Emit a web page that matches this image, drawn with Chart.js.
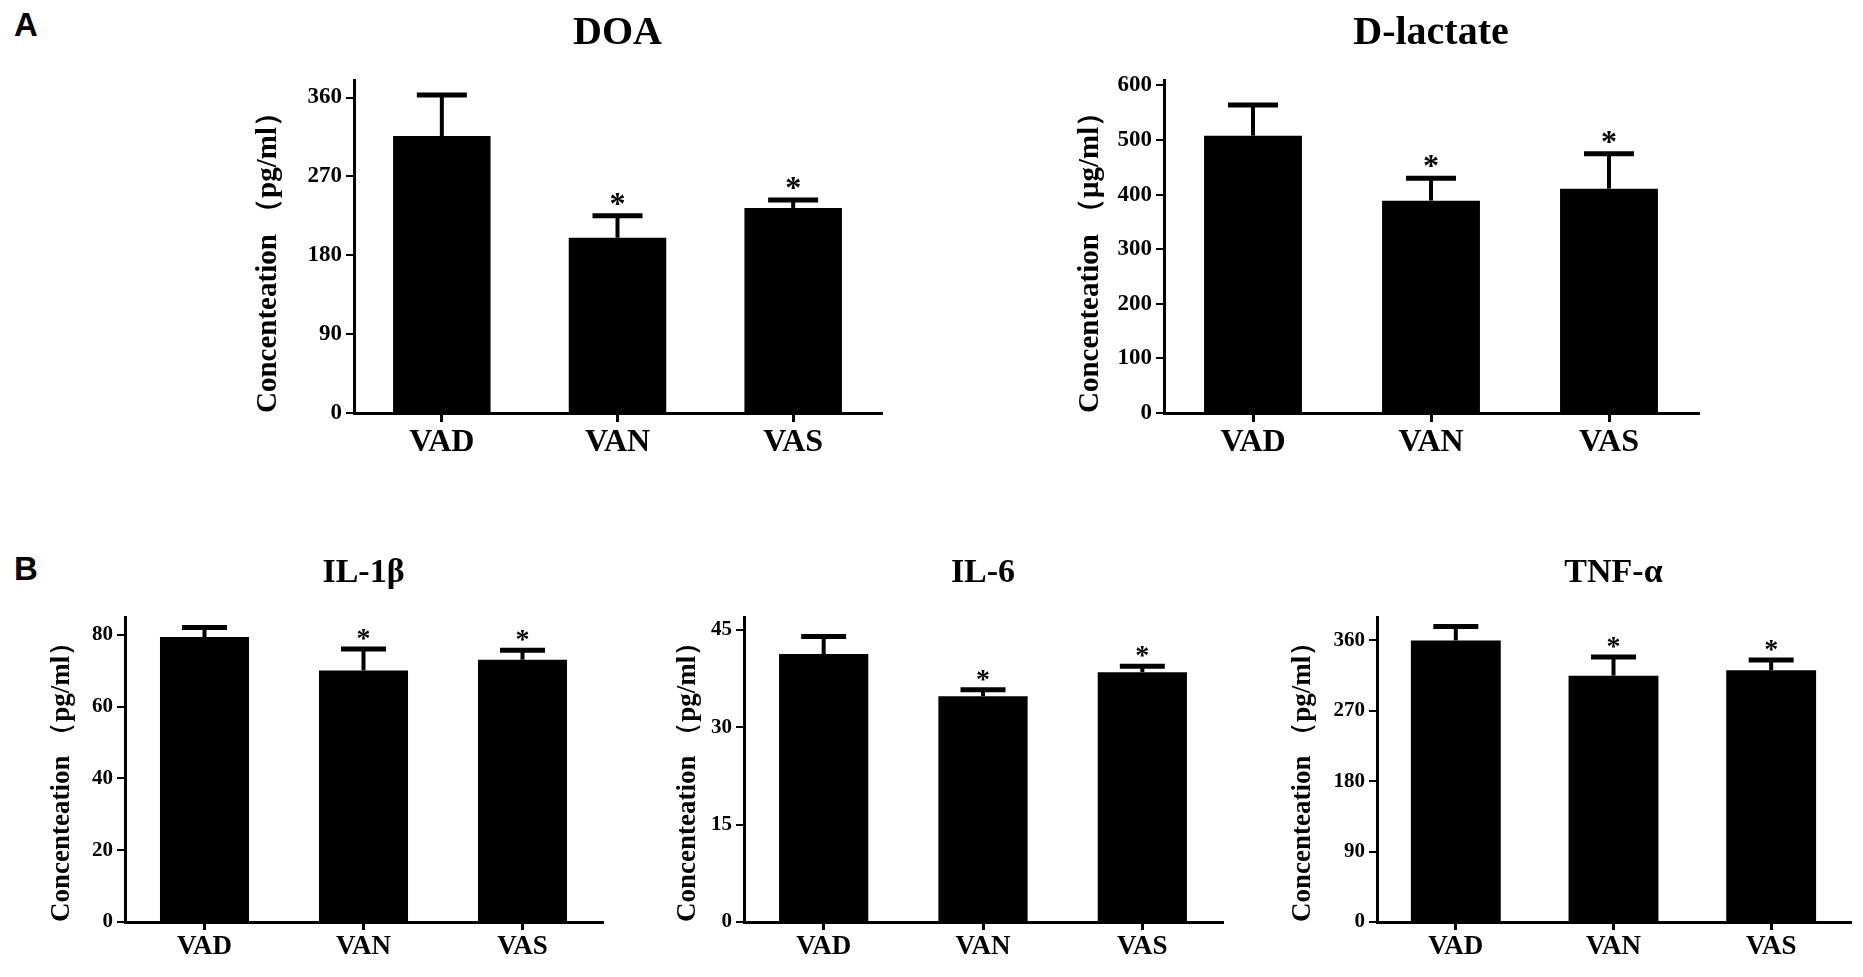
<!DOCTYPE html>
<html>
<head>
<meta charset="utf-8">
<script src="https://cdn.jsdelivr.net/npm/chart.js@4.4.1/dist/chart.umd.min.js"></script>
<style>
html, body { margin: 0; padding: 0; background: #fff; width: 1863px; height: 977px; overflow: hidden; }
canvas { position: absolute; }
.lbl { position: absolute; font: bold 33px 'Liberation Sans', Arial, sans-serif; color: #000; line-height: 1; }
</style>
</head>
<body>
<div class="lbl" style="left:14px; top:8px;">A</div>
<div class="lbl" style="left:14px; top:552px;">B</div>
<script>
// ---------- data ----------
const categories = ['VAD', 'VAN', 'VAS'];

const doaMean = [316, 200, 234];
const doaErr  = [47, 25, 9];
const doaSig  = [false, true, true];
const doaTicks = [0, 90, 180, 270, 360];

const lacMean = [508, 389, 411];
const lacErr  = [56, 41, 64];
const lacSig  = [false, true, true];
const lacTicks = [0, 100, 200, 300, 400, 500, 600];

const il1Mean = [79.4, 70.1, 73.1];
const il1Err  = [2.7, 6.0, 2.6];
const il1Sig  = [false, true, true];
const il1Ticks = [0, 20, 40, 60, 80];

const il6Mean = [41.3, 34.8, 38.5];
const il6Err  = [2.7, 1.0, 0.9];
const il6Sig  = [false, true, true];
const il6Ticks = [0, 15, 30, 45];

const tnfMean = [360, 315, 322];
const tnfErr  = [18, 24, 13];
const tnfSig  = [false, true, true];
const tnfTicks = [0, 90, 180, 270, 360];

const panelTitles = ['DOA', 'D-lactate', 'IL-1β', 'IL-6', 'TNF-α'];
const yTitles = ['Concenteation （pg/ml）', 'Concenteation （μg/ml）', 'Concenteation （pg/ml）', 'Concenteation （pg/ml）', 'Concenteation （pg/ml）'];
const yMax  = [380, 610, 85, 47, 390];

// ---------- layout / style ----------
const SERIF = "'Liberation Serif', 'Times New Roman', serif";
const rowTop = { canvasTop: 0, titleY: 34, titleSize: 40, tickSize: 23, xSize: 32, ySize: 29,
  xTickLen: 9, xPad: 2, starSize: 32, starGap: 2, capW: 50, stemW: 4, capLW: 5, areaT: 80, areaB: 413, xH: 62 };
const rowBot = { canvasTop: 530, titleY: 573, titleSize: 34, tickSize: 21, xSize: 27, ySize: 27,
  xTickLen: 8, xPad: 1, starSize: 28, starGap: 2, capW: 45, stemW: 4, capLW: 5, areaT: 617, areaB: 922, xH: 50 };

const panels = [
  { mean: doaMean, err: doaErr, sig: doaSig, ticks: doaTicks, row: rowTop, l: 354,  r: 881,  tx: 268,  bar: 0.555 },
  { mean: lacMean, err: lacErr, sig: lacSig, ticks: lacTicks, row: rowTop, l: 1164, r: 1698, tx: 1090, bar: 0.55 },
  { mean: il1Mean, err: il1Err, sig: il1Sig, ticks: il1Ticks, row: rowBot, l: 125,  r: 602,  tx: 62,   bar: 0.56 },
  { mean: il6Mean, err: il6Err, sig: il6Sig, ticks: il6Ticks, row: rowBot, l: 744,  r: 1222, tx: 688,  bar: 0.56 },
  { mean: tnfMean, err: tnfErr, sig: tnfSig, ticks: tnfTicks, row: rowBot, l: 1377, r: 1850, tx: 1303, bar: 0.57 }
];

// ---------- error bar + significance plugin ----------
const errPlugin = {
  id: 'errbars',
  afterDatasetsDraw(chart, args, o) {
    const ctx = chart.ctx;
    const meta = chart.getDatasetMeta(0);
    const ys = chart.scales.y;
    ctx.save();
    ctx.strokeStyle = '#000';
    ctx.fillStyle = '#000';
    meta.data.forEach((bar, i) => {
      const top = ys.getPixelForValue(o.mean[i] + o.err[i]);
      ctx.lineWidth = o.stemW;
      ctx.beginPath(); ctx.moveTo(bar.x, bar.y); ctx.lineTo(bar.x, top); ctx.stroke();
      ctx.lineWidth = o.capLW;
      ctx.beginPath(); ctx.moveTo(bar.x - o.capW / 2, top); ctx.lineTo(bar.x + o.capW / 2, top); ctx.stroke();
      if (o.sig[i]) {
        ctx.font = 'bold ' + o.starSize + 'px ' + SERIF;
        ctx.textAlign = 'center';
        ctx.textBaseline = 'alphabetic';
        ctx.fillText('*', bar.x, top - o.starGap);
      }
    });
    ctx.restore();
  }
};

panels.forEach((p, k) => {
  const R = p.row;
  const yLine = R.ySize * 1.2;
  const yTitlePad = 2;
  const L = Math.round(p.tx - yLine / 2 - yTitlePad);
  const padRight = 12;
  const W = p.r + padRight - L;
  const T = R.canvasTop;
  const H = R.areaB + R.xH - T;
  const tLine = R.titleSize * 1.2;
  const tPadTop = R.titleY - T - tLine / 2;
  const tPadBot = (R.areaT - T) - tLine - tPadTop;
  const yW = p.l - L;

  const cv = document.createElement('canvas');
  cv.width = W; cv.height = H;
  cv.style.left = L + 'px'; cv.style.top = T + 'px';
  cv.style.width = W + 'px'; cv.style.height = H + 'px';
  document.body.appendChild(cv);

  new Chart(cv, {
    type: 'bar',
    data: {
      labels: categories,
      datasets: [{
        data: p.mean,
        backgroundColor: '#000',
        borderWidth: 0,
        categoryPercentage: 1,
        barPercentage: p.bar
      }]
    },
    options: {
      responsive: false,
      animation: false,
      devicePixelRatio: 1,
      layout: { padding: { left: 0, right: padRight, top: 0, bottom: 0 } },
      plugins: {
        legend: { display: false },
        tooltip: { enabled: false },
        title: {
          display: true, text: panelTitles[k], fullSize: false, color: '#000',
          font: { family: SERIF, size: R.titleSize, weight: 'bold', lineHeight: 1.2 },
          padding: { top: tPadTop, bottom: tPadBot }
        },
        errbars: { mean: p.mean, err: p.err, sig: p.sig, capW: R.capW, stemW: R.stemW, capLW: R.capLW,
          starSize: R.starSize, starGap: R.starGap }
      },
      scales: {
        x: {
          type: 'category',
          offset: true,
          grid: { display: true, drawOnChartArea: false, drawTicks: true, tickLength: R.xTickLen,
                  color: '#000', lineWidth: 3, offset: false },
          border: { display: true, color: '#000', width: 3 },
          ticks: { color: '#000', padding: R.xPad, maxRotation: 0,
                   font: { family: SERIF, size: R.xSize, weight: 'bold', lineHeight: 1.2 } },
          afterFit(s) { s.height = R.xH; }
        },
        y: {
          min: 0, max: yMax[k],
          grid: { display: true, drawOnChartArea: false, drawTicks: true, tickLength: 8, color: '#000', lineWidth: 2 },
          border: { display: true, color: '#000', width: 3 },
          ticks: { color: '#000', padding: 4,
                   font: { family: SERIF, size: R.tickSize, weight: 'bold', lineHeight: 1.2 } },
          afterBuildTicks(s) { s.ticks = p.ticks.map(v => ({ value: v })); },
          title: { display: true, text: yTitles[k], align: 'start', color: '#000',
                   font: { family: SERIF, size: R.ySize, weight: 'bold', lineHeight: 1.2 },
                   padding: { top: yTitlePad, bottom: 0 } },
          afterFit(s) { s.width = yW; }
        }
      }
    },
    plugins: [errPlugin]
  });
});
</script>
</body>
</html>
